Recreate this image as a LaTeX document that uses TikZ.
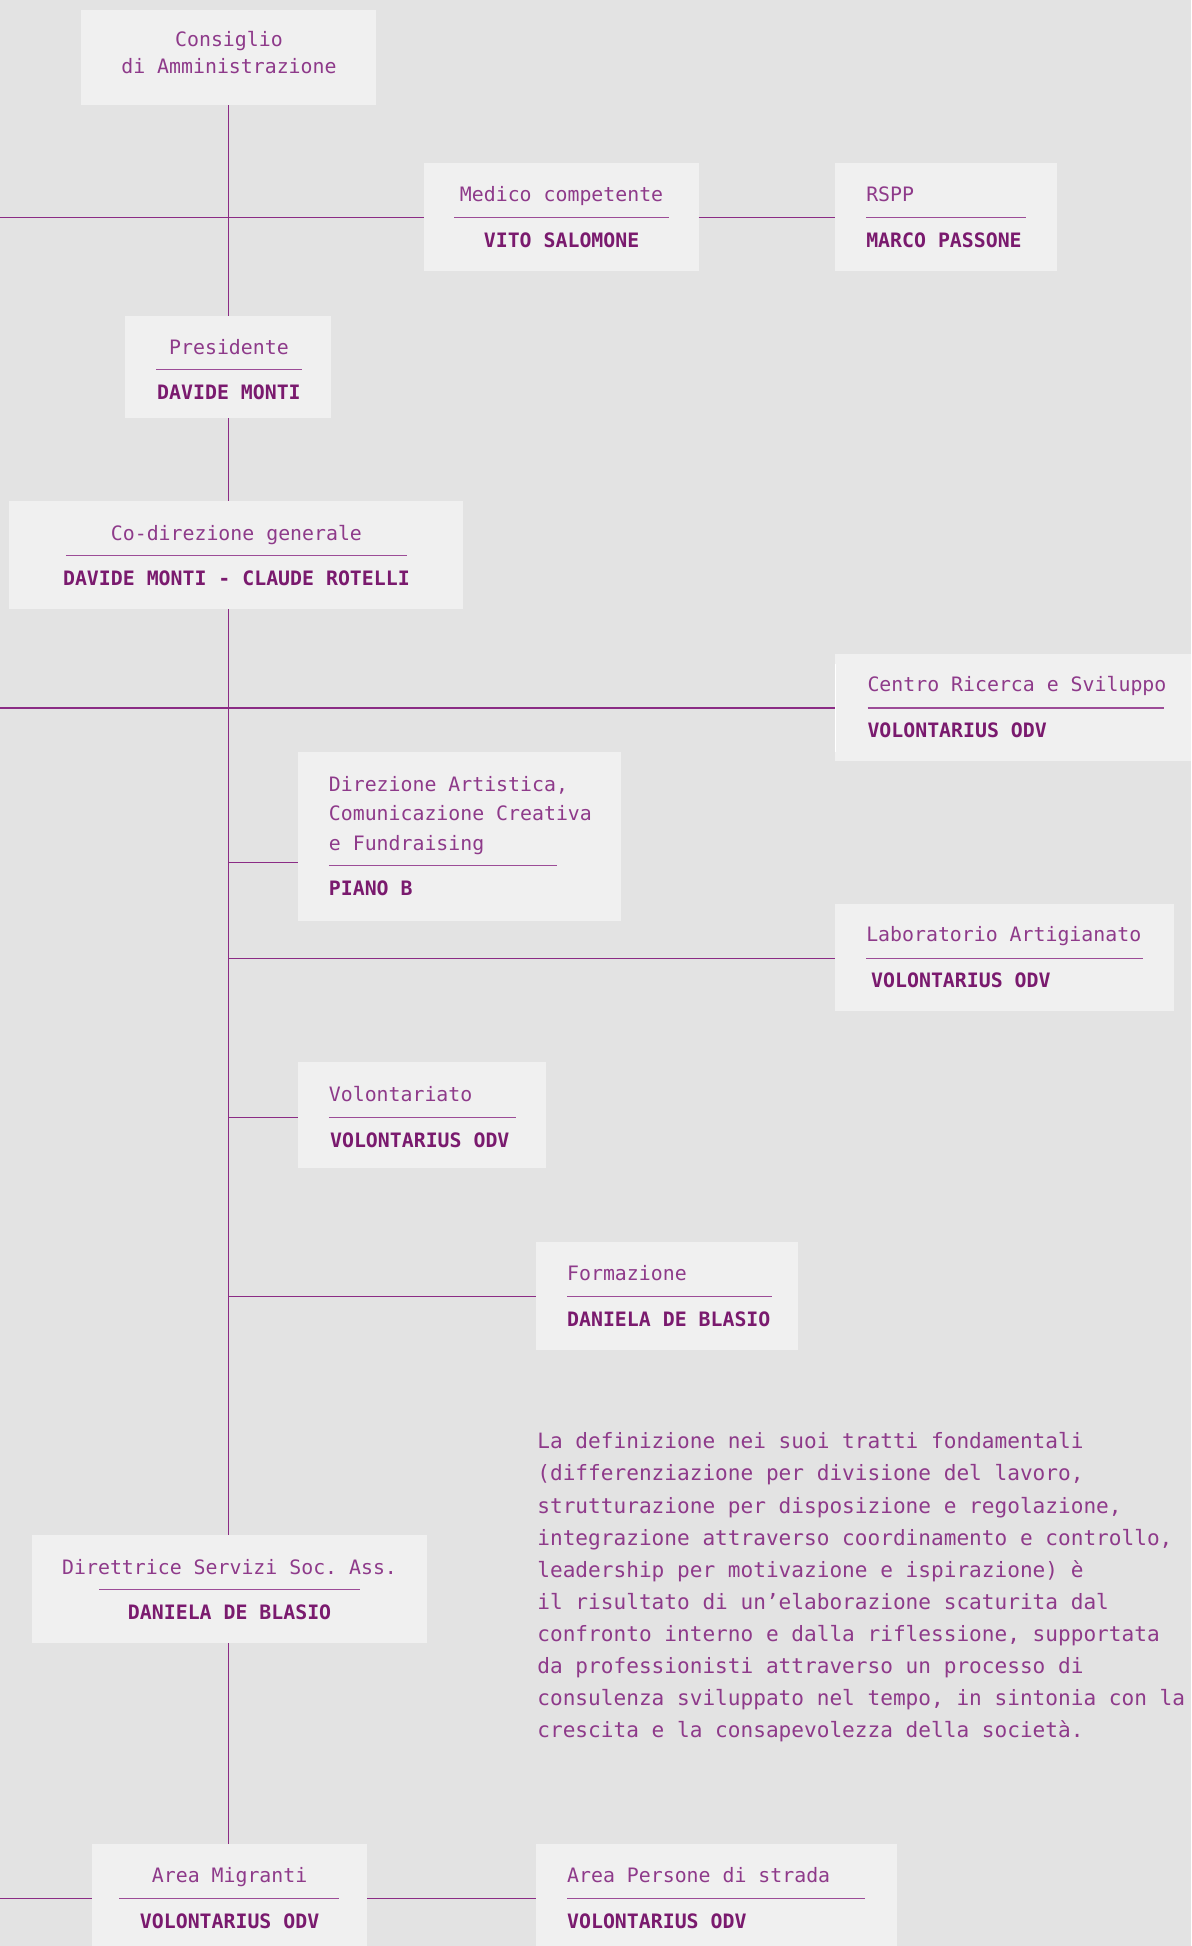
\documentclass[tikz,border=0pt]{standalone}
\usepackage{fontspec}
\setmonofont{DejaVu Sans Mono}
\definecolor{bgc}{HTML}{E3E3E3}
\definecolor{boxc}{HTML}{F0F0F0}
\definecolor{ttl}{HTML}{8E3A8A}
\definecolor{nme}{HTML}{7A1A6E}
\definecolor{lnc}{HTML}{8B2C85}
\tikzset{
  box/.style={rectangle, fill=boxc, inner sep=0pt, outer sep=0pt},
  ttext/.style={font=\ttfamily\fontsize{16}{21.5}\selectfont, text=ttl, inner sep=0pt, outer sep=0pt},
  ntext/.style={font=\ttfamily\bfseries\fontsize{16}{21.5}\selectfont, text=nme, inner sep=0pt, outer sep=0pt},
  ptext/.style={font=\ttfamily\fontsize{17}{25.8}\selectfont, text=ttl, inner sep=0pt, outer sep=0pt, anchor=base west},
  conn/.style={draw=lnc, line width=0.9pt},
  rulel/.style={draw=lnc!85, line width=0.9pt},
}
\newcommand{\orgbox}[5]{%
  \node[box, minimum width={(#4-#2)*1pt}, minimum height={(#5-#3)*1pt}] (#1) at ({(#2+#4)/2},{(#3+#5)/2}) {};}
\begin{document}
\begin{tikzpicture}[x=1pt,y=-1pt]
\useasboundingbox (0,0) rectangle (960,1568);
\fill[bgc] (0,0) rectangle (960,1568);

% ---------- boxes ----------
\orgbox{cda}{65}{8}{303}{85}
\orgbox{med}{342}{131}{563}{218}
\orgbox{rspp}{673}{131}{852}{218}
\orgbox{pres}{101}{255}{267}{337}
\orgbox{codir}{7}{404}{373}{491}
\orgbox{crs}{673}{527}{960}{613}
\orgbox{dir}{240}{606}{500}{742}
\orgbox{lab}{673}{728}{946}{815}
\orgbox{vol}{240}{856}{440}{941}
\orgbox{form}{432}{1001}{643}{1088}
\orgbox{dss}{26}{1237}{344}{1324}
\orgbox{mig}{74}{1486}{296}{1568}
\orgbox{pers}{432}{1486}{723}{1568}
\draw[white, line width=0.9pt] (673.5,535) -- (673.5,606);

% ---------- coordinates ----------
\coordinate (l1) at (0,175.5);
\coordinate (l2) at (0,570.5);
\coordinate (l3) at (0,1529.5);
\coordinate (s1) at (184.5,695);
\coordinate (s2) at (184.5,772);
\coordinate (s3) at (184.5,900.5);
\coordinate (s4) at (184.5,1044.5);

% ---------- connectors ----------
\draw[conn] (cda.south) -- (pres.north);
\draw[conn] (pres.south) -- (pres.south |- codir.north);
\draw[conn] (pres.south |- codir.south) -- (pres.south |- dss.north);
\draw[conn] (pres.south |- dss.south) -- (pres.south |- mig.north);
\draw[conn] (l1) -- (l1 -| med.west);
\draw[conn] (l1 -| med.east) -- (l1 -| rspp.west);
\draw[conn] (l2) -- (l2 -| crs.west);
\draw[conn] (s1) -- (s1 -| dir.west);
\draw[conn] (s2) -- (s2 -| lab.west);
\draw[conn] (s3) -- (s3 -| vol.west);
\draw[conn] (s4) -- (s4 -| form.west);
\draw[conn] (l3) -- (l3 -| mig.west);
\draw[conn] (l3 -| mig.east) -- (l3 -| pers.west);

% ---------- texts ----------
\node[ttext, anchor=base] (cdaT1) at (184.5,37.5) {Consiglio};
\node[ttext, anchor=base] (cdaT2) at (184.5,59) {di Amministrazione};

\node[ttext, anchor=base] (medT) at (452.5,162.5) {Medico competente};
\draw[rulel] (366,175.5) -- (539,175.5);
\node[ntext, anchor=base] (medN) at (452.5,199.5) {VITO SALOMONE};

\node[ttext, anchor=base west] (rsppT) at (698,162.5) {RSPP};
\draw[rulel] (698,175.5) -- (827,175.5);
\node[ntext, anchor=base west] (rsppN) at (698,199.5) {MARCO PASSONE};

\node[ttext, anchor=base] (presT) at (184.5,285.5) {Presidente};
\draw[rulel] (126,298) -- (243,298);
\node[ntext, anchor=base] (presN) at (184.5,322) {DAVIDE MONTI};

\node[ttext, anchor=base] (codirT) at (190.5,435.5) {Co-direzione generale};
\draw[rulel] (53,447.5) -- (328,447.5);
\node[ntext, anchor=base] (codirN) at (190.5,472) {DAVIDE MONTI - CLAUDE ROTELLI};

\node[ttext, anchor=base west] (crsT) at (699,557.5) {Centro Ricerca e Sviluppo};
\draw[rulel] (699,570.5) -- (938,570.5);
\node[ntext, anchor=base west] (crsN) at (699,594) {VOLONTARIUS ODV};

\node[ttext, anchor=base west] (dirT1) at (265,637.5) {Direzione Artistica,};
\node[ttext, anchor=base west] (dirT2) at (265,661) {Comunicazione Creativa};
\node[ttext, anchor=base west] (dirT3) at (265,685) {e Fundraising};
\draw[rulel] (265,697.5) -- (449,697.5);
\node[ntext, anchor=base west] (dirN) at (265,721.5) {PIANO B};

\node[ttext, anchor=base west] (labT) at (698,759) {Laboratorio Artigianato};
\draw[rulel] (698,772) -- (921,772);
\node[ntext, anchor=base west] (labN) at (702,796) {VOLONTARIUS ODV};

\node[ttext, anchor=base west] (volT) at (265,887.5) {Volontariato};
\draw[rulel] (265,900.5) -- (416,900.5);
\node[ntext, anchor=base west] (volN) at (266,924.5) {VOLONTARIUS ODV};

\node[ttext, anchor=base west] (formT) at (457,1032) {Formazione};
\draw[rulel] (457,1045) -- (622,1045);
\node[ntext, anchor=base west] (formN) at (457,1069) {DANIELA DE BLASIO};

\node[ptext] (p1) at (433,1167.4) {La definizione nei suoi tratti fondamentali};
\node[ptext] (p2) at (433,1193.2) {(differenziazione per divisione del lavoro,};
\node[ptext] (p3) at (433,1219.1) {strutturazione per disposizione e regolazione,};
\node[ptext] (p4) at (433,1244.9) {integrazione attraverso coordinamento e controllo,};
\node[ptext] (p5) at (433,1270.7) {leadership per motivazione e ispirazione) è};
\node[ptext] (p6) at (433,1296.6) {il risultato di un’elaborazione scaturita dal};
\node[ptext] (p7) at (433,1322.4) {confronto interno e dalla riflessione, supportata};
\node[ptext] (p8) at (433,1348.2) {da professionisti attraverso un processo di};
\node[ptext] (p9) at (433,1374.1) {consulenza sviluppato nel tempo, in sintonia con la};
\node[ptext] (p10) at (433,1399.9) {crescita e la consapevolezza della società.};

\node[ttext, anchor=base] (dssT) at (185,1268.5) {Direttrice Servizi Soc. Ass.};
\draw[rulel] (80,1281) -- (290,1281);
\node[ntext, anchor=base] (dssN) at (185,1305) {DANIELA DE BLASIO};

\node[ttext, anchor=base] (migT) at (185,1517) {Area Migranti};
\draw[rulel] (96,1529.5) -- (273,1529.5);
\node[ntext, anchor=base] (migN) at (185,1553.5) {VOLONTARIUS ODV};

\node[ttext, anchor=base west] (persT) at (457,1517) {Area Persone di strada};
\draw[rulel] (457,1529.5) -- (697,1529.5);
\node[ntext, anchor=base west] (persN) at (457,1553.5) {VOLONTARIUS ODV};
\end{tikzpicture}
\end{document}
